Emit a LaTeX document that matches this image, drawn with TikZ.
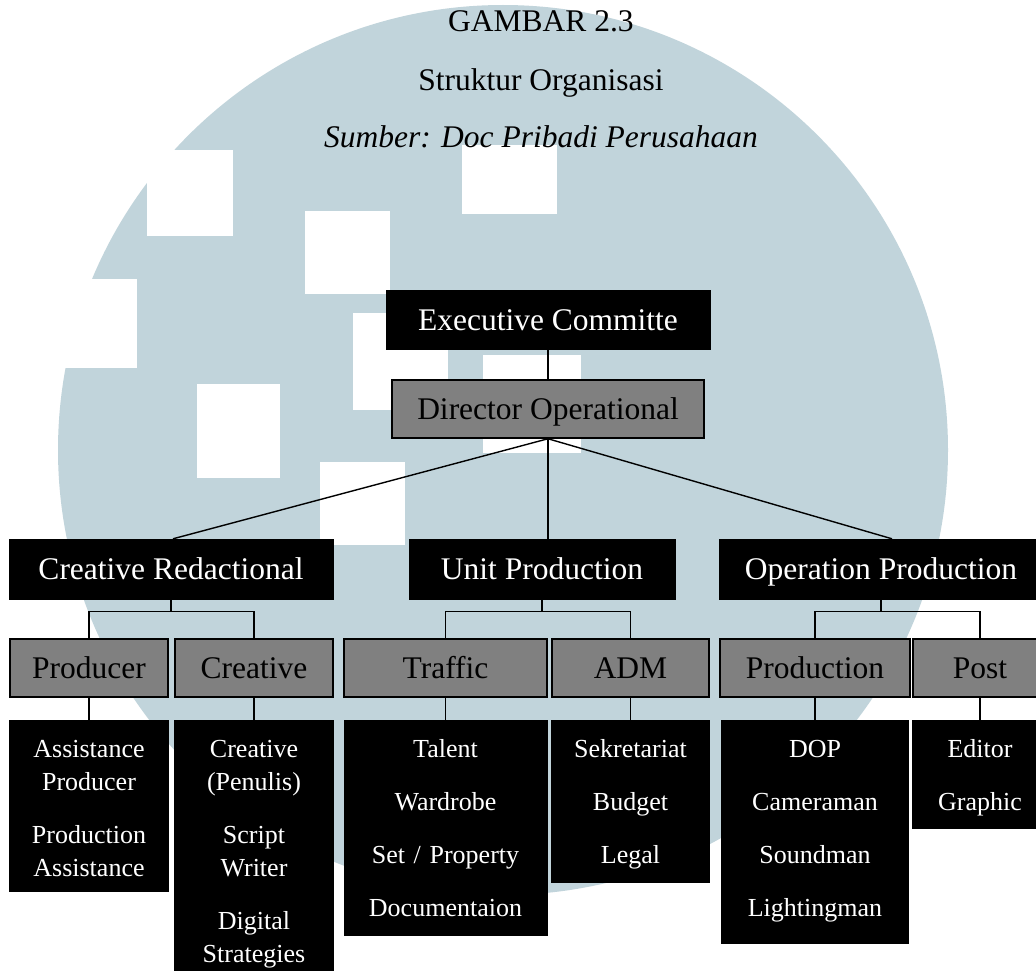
\documentclass[tikz,border=0pt]{standalone}
\usepackage{fontspec}
\setmainfont{Liberation Serif}
\definecolor{wmblue}{RGB}{193,212,219}
\definecolor{unitgray}{RGB}{128,128,128}

\begin{document}
\begin{tikzpicture}[x=1pt,y=-1pt]
\tikzstyle{every node}=[font=\fontsize{31.5}{38}\selectfont]
\tikzstyle{head}=[fill=black, draw=black, text=white, inner sep=0pt, minimum height=60pt, text height=21pt, text depth=0pt]
\tikzstyle{unit}=[fill=unitgray, draw=black, line width=1.5pt, inner sep=0pt, minimum height=58pt, text height=21pt, text depth=0pt]
\tikzstyle{jobs}=[fill=black, text=white, anchor=north, align=center, inner sep=0pt, text height=37pt, font=\fontsize{26}{33}\selectfont]
\tikzstyle{link}=[line width=1.4pt]

\clip (0,0) rectangle (1036,971);
\fill[white] (0,0) rectangle (1036,971);

% watermark
\fill[wmblue] (503,450) circle (445pt);
\fill[white] (0,279) rectangle (137,368);
\foreach \xa/\ya/\xb/\yb in {147/150/233/236, 462/145/557/214, 305/211/390/294,
    197/384/280/478, 353/313/448/410, 483/355/581/453, 320/462/405/545}
  \fill[white] (\xa,\ya) rectangle (\xb,\yb);

\node[anchor=base] (title) at (541,32) {GAMBAR 2.3};
\node[anchor=base] (subtitle) at (541,91) {Struktur Organisasi};
\node[anchor=base] (source) at (541,148) {\itshape Sumber: Doc Pribadi Perusahaan};

\node[head, minimum width=324pt, minimum height=59pt] (exec) at (548,319.5) {Executive Committe};
\node[unit, minimum width=312pt] (director) at (548,409) {Director Operational};

\node[head, minimum width=324pt] (creativeRed) at (171,569) {Creative Redactional};
\node[head, minimum width=266pt] (unitProd) at (542,569) {Unit Production};
\node[head, minimum width=324pt] (operationProd) at (881,569) {Operation Production};

\node[unit, minimum width=158pt] (producer) at (89,668) {Producer};
\node[unit, minimum width=158pt] (creative) at (254,668) {Creative};
\node[unit, minimum width=203pt] (traffic) at (445.5,668) {Traffic};
\node[unit, minimum width=157pt] (adm) at (630.5,668) {ADM};
\node[unit, minimum width=190pt] (production) at (815,668) {Production};
\node[unit, minimum width=134pt] (post) at (980,668) {Post};

\node[jobs, text width=160pt, text depth=135pt] (producerJobs) at (89,720)
  {Assistance\\Producer\\[20pt]Production\\Assistance};
\node[jobs, text width=160pt, text depth=233pt] (creativeJobs) at (254,720)
  {Creative\\(Penulis)\\[20pt]Script\\Writer\\[20pt]Digital\\Strategies};
\node[jobs, text width=204pt, text depth=179pt] (trafficJobs) at (445.5,720)
  {Talent\\[20pt]Wardrobe\\[20pt]Set / Property\\[20pt]Documentaion};
\node[jobs, text width=159pt, text depth=126pt] (admJobs) at (630.5,720)
  {Sekretariat\\[20pt]Budget\\[20pt]Legal};
\node[jobs, text width=188pt, text depth=187pt] (productionJobs) at (815,720)
  {DOP\\[20pt]Cameraman\\[20pt]Soundman\\[20pt]Lightingman};
\node[jobs, text width=136pt, text depth=72pt] (postJobs) at (980,720)
  {Editor\\[20pt]Graphic};

\draw[link] (exec) -- (director);
\draw[link] (director.south) -- ([xshift=2pt]creativeRed.north);
\draw[link] (director.south) -- (director.south |- unitProd.north);
\draw[link] (director.south) -- ([xshift=11pt]operationProd.north);

\draw[link] (creativeRed.south) -- ++(0,12) coordinate (crBar);
\draw[link] (producer.north) |- (crBar) -| (creative.north);
\draw[link] (unitProd.south) -- ++(0,12) coordinate (upBar);
\draw[link] (traffic.north) |- (upBar) -| (adm.north);
\draw[link] (operationProd.south) -- ++(0,12) coordinate (opBar);
\draw[link] (production.north) |- (opBar) -| (post.north);

\foreach \unitname in {producer, creative, traffic, adm, production, post}
  \draw[link] (\unitname.south) -- (\unitname Jobs.north);
\end{tikzpicture}
\end{document}
